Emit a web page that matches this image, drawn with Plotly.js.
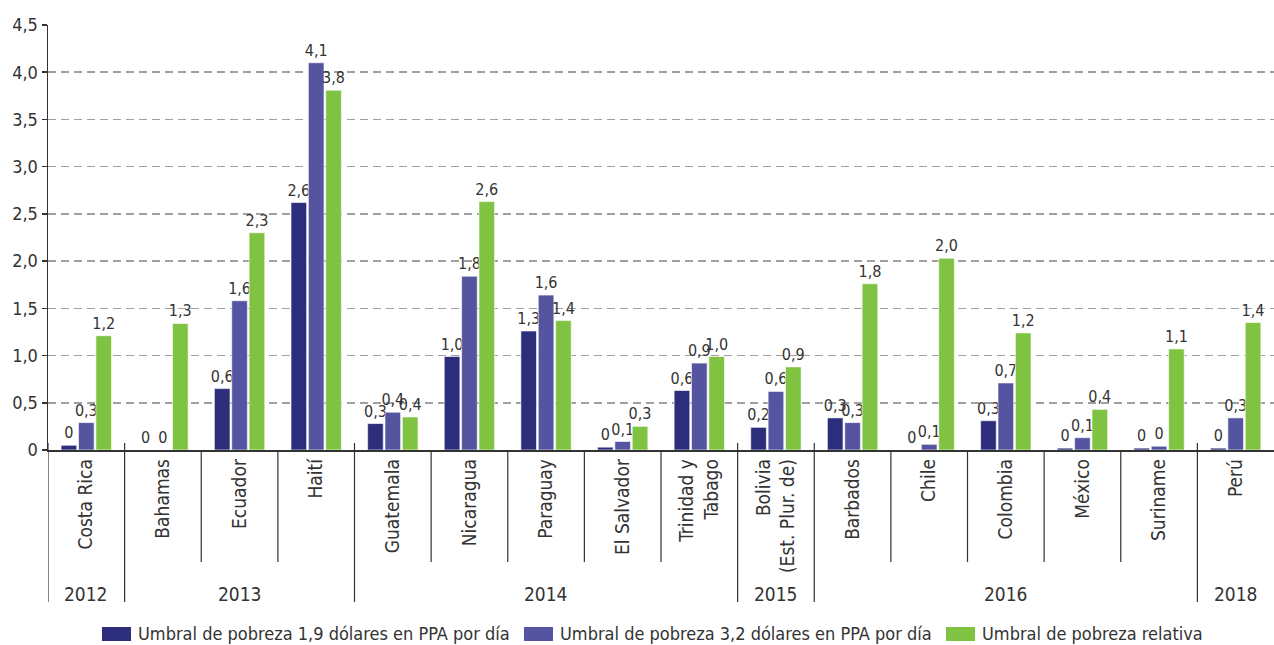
<!DOCTYPE html>
<html>
<head>
<meta charset="utf-8">
<script src="https://cdn.plot.ly/plotly-3.0.1.min.js"></script>
<style>html,body{margin:0;padding:0;background:#fff;overflow:hidden;}#chart{width:1274px;height:645px;}</style>
</head>
<body>
<div id="chart"></div>
<script>
const countries = ["Costa Rica","Bahamas","Ecuador","Haití","Guatemala","Nicaragua","Paraguay","El Salvador","Trinidad y<br>Tabago","Bolivia<br>(Est. Plur. de)","Barbados","Chile","Colombia","México","Suriname","Perú"];
const years = ["2012","2013","2013","2013","2014","2014","2014","2014","2014","2015","2016","2016","2016","2016","2016","2018"];
const seriesNames = ["Umbral de pobreza 1,9 dólares en PPA por día","Umbral de pobreza 3,2 dólares en PPA por día","Umbral de pobreza relativa"];
const v19 = [0.05,0,0.65,2.62,0.28,0.99,1.26,0.03,0.63,0.24,0.34,0,0.31,0.02,0.02,0.02];
const v32 = [0.29,0,1.58,4.1,0.4,1.84,1.64,0.09,0.92,0.62,0.29,0.06,0.71,0.13,0.04,0.34];
const vRel = [1.21,1.34,2.3,3.81,0.35,2.63,1.37,0.25,0.99,0.88,1.76,2.03,1.24,0.43,1.07,1.35];
const t19 = ["0","0","0,6","2,6","0,3","1,0","1,3","0","0,6","0,2","0,3","0","0,3","0","0","0"];
const t32 = ["0,3","0","1,6","4,1","0,4","1,8","1,6","0,1","0,9","0,6","0,3","0,1","0,7","0,1","0","0,3"];
const tRel = ["1,2","1,3","2,3","3,8","0,4","2,6","1,4","0,3","1,0","0,9","1,8","2,0","1,2","0,4","1,1","1,4"];
const yTickVals = [0,0.5,1,1.5,2,2.5,3,3.5,4,4.5];
const yTickText = ["0","0,5","1,0","1,5","2,0","2,5","3,0","3,5","4,0","4,5"];

const FONT = "'DejaVu Sans Condensed','DejaVu Sans',sans-serif";
const colors = ["#2d2e7b","#5454a0","#80c241"];
const idx = countries.map((c,i)=>i);

// figure geometry (pixels)
const W = 1274, HT = 645, ML = 48, MT = 25, MB = 195;
const PW = W - ML, PH = HT - MT - MB;
const py = p => (HT - MB - p) / PH;   // pixel y -> paper y
const px = p => (p - ML) / PW;        // pixel x -> paper x

function mk(vals, txt, k){
  return {type:'bar', x:idx, y:vals, name:seriesNames[k], text:txt,
    textposition:'outside', cliponaxis:false, constraintext:'none', textangle:0,
    textfont:{family:FONT,size:16,color:'#333'},
    marker:{color:colors[k], line:{color:'#ffffff',width:0.6}},
    hoverinfo:'y', showlegend:false};
}
const data = [mk(v19,t19,0), mk(v32,t32,1), mk(vRel,tRel,2)];

const shapes = [];
const annotations = [];
// separators between categories
for (let i=0;i<countries.length;i++){
  const isYear = (i===0) || years[i]!==years[i-1];
  shapes.push({type:'line', xref:'x', yref:'paper', x0:i-0.5, x1:i-0.5,
    y0: isYear ? py(443) : 0, y1: isYear ? py(602) : py(562),
    line:{color:'#333', width:1.2}});
}
// year group labels
let s=0;
for (let i=1;i<=years.length;i++){
  if (i===years.length || years[i]!==years[s]){
    annotations.push({xref:'x', yref:'paper', x:(s+i-1)/2, y:py(594), text:years[s],
      showarrow:false, font:{family:FONT,size:19,color:'#333'}, yanchor:'middle'});
    s=i;
  }
}
// custom legend (large swatches)
const legendSwatchX = [102, 524, 946];
seriesNames.forEach((nm,k)=>{
  const x0 = legendSwatchX[k];
  shapes.push({type:'rect', xref:'paper', yref:'paper', x0:px(x0), x1:px(x0+29),
    y0:py(641), y1:py(627), fillcolor:colors[k], line:{width:0}});
  annotations.push({xref:'paper', yref:'paper', x:px(x0+34), y:py(633), text:nm,
    xanchor:'left', yanchor:'middle', showarrow:false,
    font:{family:FONT,size:18,color:'#333'}});
});

const layout = {
  width:W, height:HT,
  margin:{l:ML, r:0, t:MT, b:MB, autoexpand:false},
  paper_bgcolor:'#fff', plot_bgcolor:'#fff',
  barmode:'group', bargap:0.32, bargroupgap:0.1,
  showlegend:false,
  xaxis:{range:[-0.5,15.5], tickvals:idx, ticktext:countries, tickangle:-90,
    showgrid:false, zeroline:false, showline:true, linecolor:'#333', linewidth:1.5,
    ticks:'', automargin:false, tickfont:{family:FONT,size:19,color:'#333'}, fixedrange:true},
  yaxis:{range:[0,4.5], tickvals:yTickVals, ticktext:yTickText,
    showgrid:true, gridcolor:'#a0a0a0', griddash:'8px,5px', gridwidth:1.5,
    zeroline:false, showline:true, linecolor:'#333', linewidth:1.5, automargin:false,
    ticks:'outside', ticklen:5, tickcolor:'#333', tickwidth:1.5,
    tickfont:{family:FONT,size:18,color:'#333'}, fixedrange:true},
  shapes:shapes, annotations:annotations,
  font:{family:FONT,color:'#333'}
};
Plotly.newPlot('chart', data, layout, {displayModeBar:false, staticPlot:true});
</script>
</body>
</html>
